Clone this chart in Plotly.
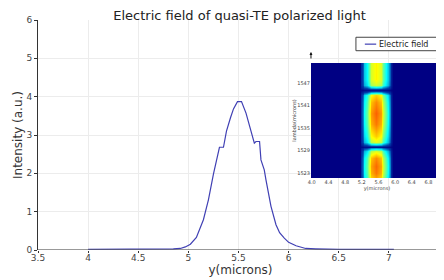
import plotly.graph_objects as go

# main curve
y_pos = [4.0, 4.45, 4.5, 4.85, 4.92, 4.97, 5.02, 5.08, 5.15, 5.2, 5.25, 5.28, 5.31, 5.35,
         5.38, 5.42, 5.45, 5.49, 5.53, 5.575, 5.625, 5.658, 5.675, 5.71, 5.724, 5.757,
         5.774, 5.824, 5.874, 5.91, 5.957, 6.0, 6.074, 6.17, 6.27, 6.5, 7.05]
intensity = [0.02, 0.02, 0.03, 0.03, 0.04, 0.08, 0.15, 0.33, 0.79, 1.31, 1.98, 2.3, 2.68, 2.68,
             3.1, 3.45, 3.68, 3.87, 3.87, 3.57, 3.13, 2.79, 2.83, 2.83, 2.35, 2.09,
             1.83, 1.14, 0.66, 0.45, 0.31, 0.2, 0.11, 0.04, 0.03, 0.02, 0.02]

# inset heatmap: columns (y, microns), profile across columns, rows (lambda) and row weights
inset_y = [3.98, 5.15, 5.19, 5.22, 5.25, 5.32, 5.38, 5.43, 5.55, 5.65, 5.72, 5.78, 5.84,
           5.87, 5.9, 5.94, 7.15]
inset_profile = [0.0, 0.0, 0.15, 0.25, 0.36, 0.42, 0.5, 0.6, 0.64, 0.6, 0.5, 0.42, 0.36,
                 0.25, 0.12, 0.0, 0.0]
inset_lambda = [1521.7, 1523, 1525, 1527, 1528.8, 1529.6, 1530.1, 1530.6, 1531.4, 1533,
                1536, 1539, 1542, 1543.8, 1544.7, 1545.3, 1545.8, 1546.6, 1548, 1552.4]
inset_weight = [1.05, 1.1, 1.12, 1.08, 0.9, 0.5, 0.1, 0.5, 0.9, 1.0,
                1.1, 1.13, 1.08, 1.0, 0.5, 0.1, 0.5, 0.88, 0.95, 0.95]

x_ticks = [3.5, 4, 4.5, 5, 5.5, 6, 6.5, 7, 7.5]
x_ticklabels = ["3.5", "4", "4.5", "5", "5.5", "6", "6.5", "7", "7.5"]
y_ticks = [0, 1, 2, 3, 4, 5, 6]
inset_xticks = [4.0, 4.4, 4.8, 5.2, 5.6, 6.0, 6.4, 6.8]
inset_xlabels = ["4.0", "4.4", "4.8", "5.2", "5.6", "6.0", "6.4", "6.8"]
inset_yticks = [1523, 1529, 1535, 1541, 1547]

z = [[p * w for p in inset_profile] for w in inset_weight]

line_color = "#4040b4"
fig = go.Figure()
fig.add_trace(go.Scatter(x=y_pos, y=intensity, mode="lines", name="Electric field",
                         line=dict(color=line_color, width=1.2), showlegend=False))
fig.add_trace(go.Heatmap(x=inset_y, y=inset_lambda, z=z, colorscale="Jet", zmin=0, zmax=1,
                         zsmooth="best", showscale=False, xaxis="x2", yaxis="y2",
                         showlegend=False, hoverinfo="skip"))

grid = "#ececec"
fig.update_layout(
    width=436, height=272,
    margin=dict(l=30, r=1, t=12, b=30),
    paper_bgcolor="white", plot_bgcolor="white",
    font=dict(family="DejaVu Sans", color="#444"),
    title=dict(text="Electric field of quasi-TE polarized light", x=0.531, xanchor="center",
               y=0.972, yanchor="middle", font=dict(size=13, color="#222")),
    xaxis=dict(range=[3.5, 7.54], tickvals=x_ticks, ticktext=x_ticklabels,
               showgrid=True, gridcolor=grid, zeroline=False, showline=False,
               ticks="outside", ticklen=2, tickcolor="#333", tickfont=dict(size=9),
               ticklabelstandoff=-3,
               title=dict(text="y(microns)", font=dict(size=12, color="#333"), standoff=3)),
    yaxis=dict(range=[0, 6], tickvals=y_ticks, showgrid=True, gridcolor=grid, zeroline=False,
               showline=True, linecolor="#333", linewidth=1, ticks="outside", ticklen=3,
               tickcolor="#333", tickfont=dict(size=9),
               title=dict(text="Intensity (a.u.)", font=dict(size=12, color="#333"), standoff=1)),
    xaxis2=dict(domain=[0.674, 1.0], anchor="y2", range=[3.98, 7.15], tickvals=inset_xticks,
                ticktext=inset_xlabels, showgrid=False, zeroline=False, showline=False,
                ticks="", tickfont=dict(size=5),
                title=dict(text="y(microns)", font=dict(size=5), standoff=0)),
    yaxis2=dict(domain=[0.313, 0.813], anchor="x2", range=[1521.7, 1552.4],
                tickvals=inset_yticks, showgrid=False, zeroline=False, showline=False,
                ticks="", tickfont=dict(size=5),
                title=dict(text="lambda(microns)", font=dict(size=5), standoff=0)),
    shapes=[
        dict(type="rect", xref="paper", yref="paper", x0=0.635, x1=1.0, y0=0.226, y1=0.861,
             fillcolor="white", line=dict(width=0), layer="between"),
        dict(type="line", xref="x", yref="y", x0=3.5, x1=7.5, y0=0, y1=0,
             line=dict(color="#333", width=1)),
        # legend box and sample line
        dict(type="rect", xref="paper", yref="paper", x0=0.785, x1=0.990, y0=0.8665, y1=0.925,
             fillcolor="white", line=dict(color="#444", width=1)),
        dict(type="line", xref="paper", yref="paper", x0=0.807, x1=0.835, y0=0.895, y1=0.895,
             line=dict(color=line_color, width=1.2)),
    ],
    annotations=[
        dict(x=0.838, y=0.895, xref="paper", yref="paper", text="Electric field",
             showarrow=False, xanchor="left", yanchor="middle",
             font=dict(size=8, color="#222")),
        dict(x=0.674, y=0.861, xref="paper", yref="paper", ax=0, ay=8,
             showarrow=True, arrowhead=2, arrowsize=0.6,
             arrowwidth=1, arrowcolor="#111", text=""),
    ],
)

fig.write_html("out.html")
